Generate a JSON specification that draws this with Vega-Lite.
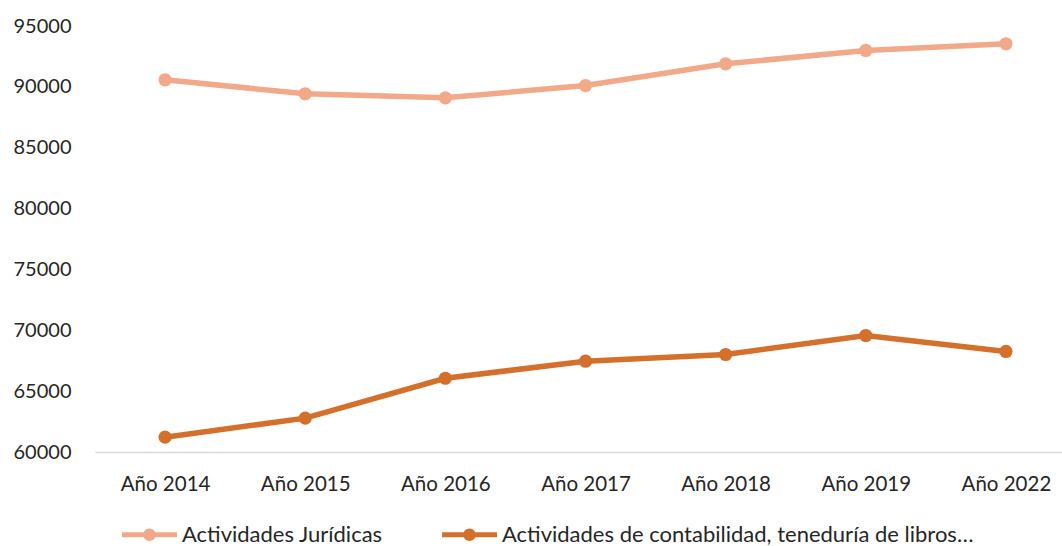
{
  "$schema": "https://vega.github.io/schema/vega-lite/v6.json",
  "width": 981,
  "height": 426,
  "autosize": "none",
  "padding": {"left": 95, "top": 26, "right": 0, "bottom": 94},
  "background": "white",
  "config": {"view": {"stroke": null}, "font": "Lato"},
  "data": {
    "values": [
      {"anio": "Año 2014", "serie": "Actividades Jurídicas", "valor": 90580},
      {"anio": "Año 2015", "serie": "Actividades Jurídicas", "valor": 89430},
      {"anio": "Año 2016", "serie": "Actividades Jurídicas", "valor": 89100},
      {"anio": "Año 2017", "serie": "Actividades Jurídicas", "valor": 90110},
      {"anio": "Año 2018", "serie": "Actividades Jurídicas", "valor": 91890},
      {"anio": "Año 2019", "serie": "Actividades Jurídicas", "valor": 92990},
      {"anio": "Año 2022", "serie": "Actividades Jurídicas", "valor": 93540},
      {"anio": "Año 2014", "serie": "Actividades de contabilidad, teneduría de libros…", "valor": 61220},
      {"anio": "Año 2015", "serie": "Actividades de contabilidad, teneduría de libros…", "valor": 62780},
      {"anio": "Año 2016", "serie": "Actividades de contabilidad, teneduría de libros…", "valor": 66060},
      {"anio": "Año 2017", "serie": "Actividades de contabilidad, teneduría de libros…", "valor": 67460},
      {"anio": "Año 2018", "serie": "Actividades de contabilidad, teneduría de libros…", "valor": 68010},
      {"anio": "Año 2019", "serie": "Actividades de contabilidad, teneduría de libros…", "valor": 69570},
      {"anio": "Año 2022", "serie": "Actividades de contabilidad, teneduría de libros…", "valor": 68260}
    ]
  },
  "mark": {"type": "line", "strokeWidth": 5.5, "point": {"size": 175, "filled": true, "opacity": 1}},
  "encoding": {
    "x": {
      "field": "anio", "type": "ordinal", "sort": null,
      "scale": {"type": "point", "padding": 0.5},
      "axis": {"title": null, "labelAngle": 0, "labelFontSize": 20.5, "labelColor": "#262626", "ticks": false, "domainColor": "#d9d9d9", "domainWidth": 1.5, "labelPadding": 22, "grid": false}
    },
    "y": {
      "field": "valor", "type": "quantitative",
      "scale": {"domain": [60000, 95000], "nice": false, "zero": false},
      "axis": {"title": null, "values": [60000, 65000, 70000, 75000, 80000, 85000, 90000, 95000], "format": "d", "labelFontSize": 20, "labelColor": "#262626", "domain": false, "ticks": false, "grid": false, "labelPadding": 24}
    },
    "color": {
      "field": "serie", "type": "nominal",
      "scale": {"domain": ["Actividades Jurídicas", "Actividades de contabilidad, teneduría de libros…"], "range": ["#F1A98A", "#D46F2C"]},
      "legend": {
        "title": null, "orient": "none", "legendX": 36, "legendY": 490, "direction": "horizontal", "padding": 0,
        "symbolType": "M-1.5,-0.14 H1.5 V0.14 H-1.5 Z M-0.34,0 A0.34,0.34 0 1,1 0.34,0 A0.34,0.34 0 1,1 -0.34,0 Z",
        "symbolSize": 336, "labelFontSize": 22, "labelColor": "#262626", "labelOffset": 14, "columnPadding": 59, "labelLimit": 600,
        "encode": {"symbols": {"update": {"size": {"value": 1344}, "shape": {"value": "M-1.5,-0.14 H1.5 V0.14 H-1.5 Z M-0.34,0 A0.34,0.34 0 1,1 0.34,0 A0.34,0.34 0 1,1 -0.34,0 Z"}, "fill": {"scale": "color", "field": "value"}, "fillOpacity": {"value": 1}, "opacity": {"value": 1}, "stroke": {"value": "transparent"}, "strokeWidth": {"value": 0}}}}
      }
    }
  }
}
